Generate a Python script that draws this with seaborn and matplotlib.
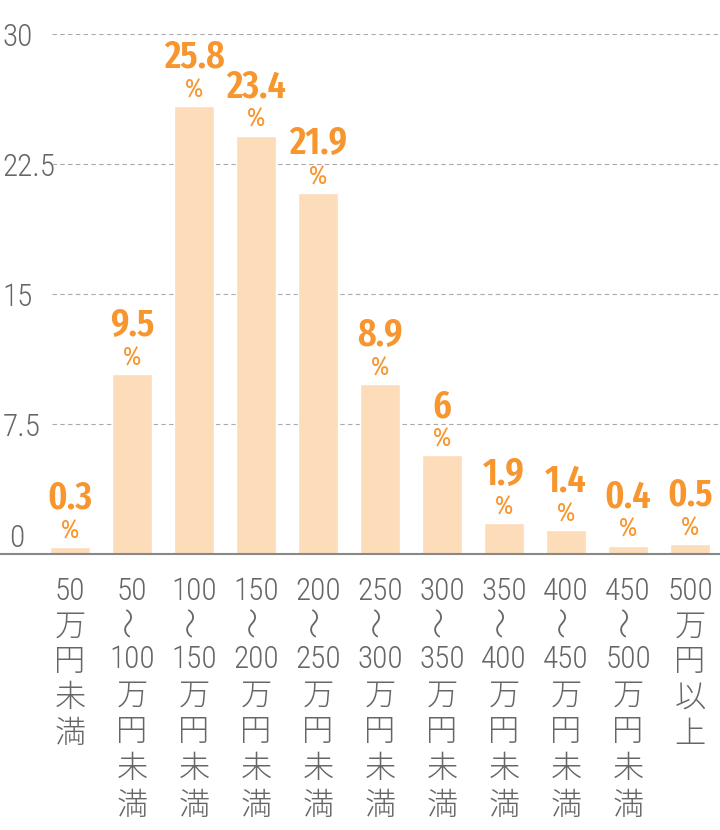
import matplotlib
matplotlib.use("Agg")
import matplotlib.pyplot as plt
import matplotlib.transforms as mtransforms
import seaborn as sns
import pandas as pd

# ---- data ----
categories = [
    "50\n万\n円\n未\n満",
    "50\n〜\n100\n万\n円\n未\n満",
    "100\n〜\n150\n万\n円\n未\n満",
    "150\n〜\n200\n万\n円\n未\n満",
    "200\n〜\n250\n万\n円\n未\n満",
    "250\n〜\n300\n万\n円\n未\n満",
    "300\n〜\n350\n万\n円\n未\n満",
    "350\n〜\n400\n万\n円\n未\n満",
    "400\n〜\n450\n万\n円\n未\n満",
    "450\n〜\n500\n万\n円\n未\n満",
    "500\n万\n円\n以\n上",
]
bar_values = [0.4, 10.4, 25.85, 24.15, 20.85, 9.8, 5.7, 1.8, 1.4, 0.5, 0.6]
value_labels = ["0.3", "9.5", "25.8", "23.4", "21.9", "8.9", "6", "1.9", "1.4", "0.4", "0.5"]
y_ticks = [0, 7.5, 15, 22.5, 30]
y_ticklabels = ["0", "7.5", "15", "22.5", "30"]

BAR_COLOR = "#FDDCBA"
LABEL_COLOR = "#F7962F"
TEXT_GRAY = "#666666"
WAVE = "〜"

sns.set_theme(style="white")
LIGHT_FAM = ["Roboto Condensed", "DejaVu Sans", "Noto Sans CJK JP"]
BOLD_FAM = ["Fira Sans Extra Condensed", "Roboto Condensed", "DejaVu Sans"]
plt.rcParams["font.family"] = LIGHT_FAM

fig = plt.figure(figsize=(7.2, 8.3), dpi=100)
ax = fig.add_axes([0.0, 275.7 / 830, 1.0, (554.3 - 34.3) / 830])

df = pd.DataFrame({"cat": categories, "val": bar_values})
sns.barplot(data=df, x="cat", y="val", color=BAR_COLOR, saturation=1,
            width=40 / 62, ax=ax, zorder=3)

ax.set_xlim(-70 / 62, 650 / 62)
ax.set_ylim(0, 30)

# dashed gridlines (behind bars)
ax.hlines([7.5, 15, 22.5, 30], xmin=(52 - 70) / 62, xmax=650 / 62,
          colors="#aaaaaa", linestyles=(0, (4, 3)), linewidth=0.8, zorder=1)

for s in ["left", "top", "right"]:
    ax.spines[s].set_visible(False)
ax.spines["bottom"].set_color("#888888")
ax.spines["bottom"].set_linewidth(1.5)
ax.spines["bottom"].set_zorder(5)

ax.set_xlabel("")
ax.set_ylabel("")

# x labels: upper part as tick label; vertical wave + lower part below it
sep = "\n" + WAVE + "\n"
tick_texts, lower_texts = [], []
for c in categories:
    if sep in c:
        top, bottom = c.split(sep, 1)
        tick_texts.append(top)
        lower_texts.append(bottom)
    else:
        tick_texts.append(c)
        lower_texts.append(None)

ax.set_xticks(range(len(categories)))
ax.set_xticklabels(tick_texts, fontsize=22.5, color=TEXT_GRAY, linespacing=1.3,
                   fontweight=300, family=LIGHT_FAM,
                   va="top", ha="center", multialignment="center")
ax.tick_params(axis="x", length=0, pad=16)

for i, low in enumerate(lower_texts):
    if low is None:
        continue
    ax.annotate(WAVE, xy=(i, 0), xytext=(-1, -48.3), textcoords="offset points",
                ha="center", va="center", rotation=90, fontsize=22.5,
                fontweight=300, family=["Noto Sans CJK JP"],
                color=TEXT_GRAY, annotation_clip=False)
    ax.annotate(low, xy=(i, 0), xytext=(0, -65.5), textcoords="offset points",
                ha="center", va="top", multialignment="center", linespacing=1.33,
                fontsize=22.5, fontweight=300, family=LIGHT_FAM,
                color=TEXT_GRAY, annotation_clip=False)

ax.set_yticks(y_ticks)
ax.set_yticklabels(y_ticklabels, fontsize=22.5, color=TEXT_GRAY, ha="left",
                   fontweight=300, family=LIGHT_FAM)
ax.tick_params(axis="y", length=0, pad=-2)
zero_lbl = ax.get_yticklabels()[0]
zero_lbl.set_transform(zero_lbl.get_transform() +
                       mtransforms.ScaledTranslation(0.06, 0.19, fig.dpi_scale_trans))

for i, (v, t) in enumerate(zip(bar_values, value_labels)):
    ax.annotate(t, xy=(i, v), xytext=(0, 27.7), textcoords="offset points",
                ha="center", va="baseline", fontsize=28, fontweight=600,
                family=BOLD_FAM, color=LABEL_COLOR, annotation_clip=False, zorder=6)
    ax.annotate("%", xy=(i, v), xytext=(0, 6.3), textcoords="offset points",
                ha="center", va="baseline", fontsize=19, fontweight=400,
                family=BOLD_FAM, color=LABEL_COLOR, annotation_clip=False, zorder=6)

fig.savefig("out.png", dpi=100)
